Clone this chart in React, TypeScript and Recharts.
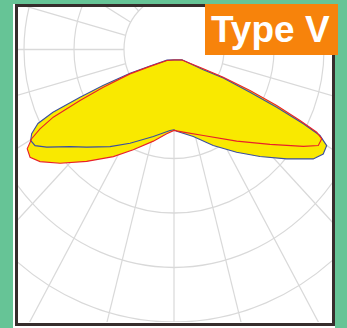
import React from "react";
import {
  RadarChart,
  Radar,
  PolarGrid,
  PolarAngleAxis,
  PolarRadiusAxis,
} from "recharts";

// polar curves: angle from nadir (deg, + to the right), intensity (100 per ring)
const RED_ANGLE = [
  39.7, 0, -34.8, -57, -63.1, -63.9, -63.5, -62.8, -61.5, -60.1, -58.2, -55.5, -52.5, -47.5,
  -40.4, -31.7, -23.9, -13.8, -5.4, 0, 7.0, 20.4, 36.7, 47.8, 55.5, 58.6, 61, 62, 62.7, 63.4,
  63.7, 62.7, 58.9,
];
const RED_VALUE = [
  25, 19.3, 24.6, 57, 98.7, 157.4, 210, 271.5, 305, 328.4, 345.4, 349.3, 337.7, 309, 269.7,
  230.9, 201.2, 173.2, 155.3, 148.6, 152.9, 168.3, 209.8, 259.4, 314, 338.1, 337.8, 323.3,
  283.7, 229.7, 169.6, 110.9, 68.5,
];
const BLUE_ANGLE = [
  40.2, 0, -35.5, -57.8, -63.7, -65.1, -65.0, -64.6, -63.5, -61.5, -59.8, -57.6, -54.9, -49.4,
  -44.3, -35.7, -27.1, -14.5, -3.1, 0, 2.1, 13.6, 24.0, 33.6, 41.2, 48.3, 54.2, 57.3, 60.0,
  61.6, 62.2, 62.7, 62.7, 62.1, 57.6,
];
const BLUE_VALUE = [
  24.8, 18.9, 24.1, 56.7, 98.1, 156.6, 207.4, 268, 304, 323.9, 331.7, 329.1, 311.3, 273.8,
  250.2, 219.3, 193.2, 164.9, 148.8, 147.3, 150.1, 164.2, 192.9, 226.3, 261, 301.7, 343.3,
  354.7, 352.6, 331.9, 292.4, 231.1, 171.0, 111.6, 69.4,
];
const GRID_ANGLES = [0, 15, 30, 45, 60, 75, 90, 105, 120, 135, 150, 165, 180, 195, 210, 225, 240, 255, 270, 285, 300, 315, 330, 345];
const GRID_RINGS = [50, 100, 150, 200, 250, 300];

const redRows = RED_ANGLE.map((a, i) => ({ angle: a, value: RED_VALUE[i] }));
const blueRows = BLUE_ANGLE.map((a, i) => ({ angle: a, value: BLUE_VALUE[i] }));

const W = 314;
const H = 315;
const CX = 156;
const CY = 42.5;
const YELLOW = "#f9e900";
const RED = "#e8202a";
const BLUE = "#3a4ea0";

const common = {
  width: W,
  height: H,
  cx: CX,
  cy: CY,
  margin: { top: 0, right: 0, bottom: 0, left: 0 },
  startAngle: -270,
  endAngle: 90,
};

function Layer({ children }: { children: React.ReactNode }) {
  return <div style={{ position: "absolute", left: 0, top: 0 }}>{children}</div>;
}

// one polar curve, drawn as a closed polygon in data order
function Curve({ data, fill, stroke }: { data: { angle: number; value: number }[]; fill: string; stroke: string }) {
  return (
    <Layer>
      <RadarChart {...common} data={data} innerRadius={0} outerRadius={300}>
        <PolarAngleAxis dataKey="angle" type="number" domain={[-180, 180]} tick={false} axisLine={false} tickLine={false} />
        <PolarRadiusAxis type="number" domain={[0, 600]} tick={false} axisLine={false} tickLine={false} />
        <Radar
          dataKey="value"
          fill={fill}
          fillOpacity={1}
          stroke={stroke}
          strokeWidth={1.1}
          dot={false}
          isAnimationActive={false}
        />
      </RadarChart>
    </Layer>
  );
}

export default function App() {
  return (
    <div style={{ position: "absolute", left: 0, top: 0, width: 347, height: 328, background: "#66c496", overflow: "hidden" }}>
      <div style={{ position: "absolute", left: 13, top: 4, width: 322, height: 324, background: "#fff" }} />
      <div style={{ position: "absolute", left: 18, top: 7, width: W, height: H, overflow: "hidden" }}>
        <div
          style={{
            position: "absolute",
            left: 0,
            top: 0,
            width: W,
            height: H,
            transform: "scaleY(1.09)",
            transformOrigin: `${CX}px ${CY}px`,
          }}
        >
          <Layer>
            <RadarChart {...common} data={redRows} innerRadius={50} outerRadius={340}>
              <PolarGrid
                gridType="circle"
                polarAngles={GRID_ANGLES}
                polarRadius={GRID_RINGS}
                stroke="#d9d9d9"
                strokeWidth={1.2}
              />
            </RadarChart>
          </Layer>
          <Curve data={redRows} fill={YELLOW} stroke="none" />
          <Curve data={blueRows} fill={YELLOW} stroke={BLUE} />
          <Curve data={redRows} fill="none" stroke={RED} />
        </div>
      </div>
      <div
        style={{
          position: "absolute",
          left: 15,
          top: 4,
          width: 320,
          height: 322,
          border: "3.3px solid #362d2c",
          boxSizing: "border-box",
        }}
      />
      <div style={{ position: "absolute", left: 205, top: 4, width: 133, height: 51, background: "#f7830b" }} />
      <div
        style={{
          position: "absolute",
          left: 211,
          top: 11.4,
          fontFamily: "'Liberation Sans', Arial, sans-serif",
          fontWeight: 700,
          fontSize: 37,
          lineHeight: "37px",
          color: "#fff",
          whiteSpace: "nowrap",
        }}
      >
        Type V
      </div>
    </div>
  );
}
